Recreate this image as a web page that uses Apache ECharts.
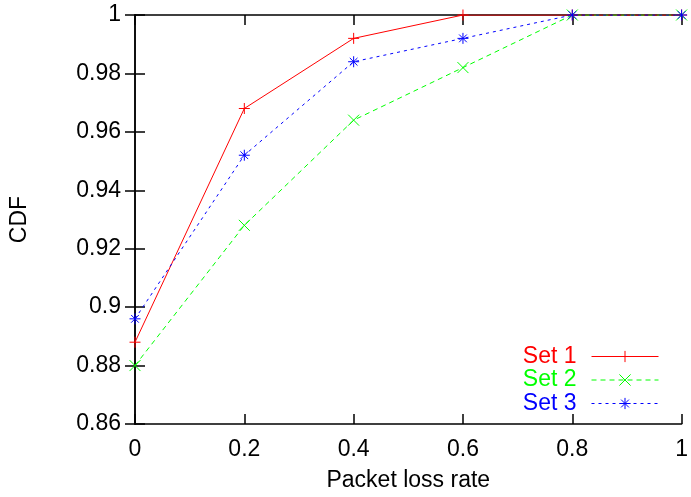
<!DOCTYPE html>
<html><head><meta charset="utf-8">
<script src="https://cdn.jsdelivr.net/npm/echarts@6/dist/echarts.min.js"></script>
<style>html,body{margin:0;padding:0;background:#fff}#c{width:691px;height:497px}</style>
</head><body><div id="c"></div>
<script>
var xValues = [0, 0.2, 0.4, 0.6, 0.8, 1];
var set1 = [0.888, 0.968, 0.992, 1, 1, 1];
var set2 = [0.880, 0.928, 0.964, 0.982, 1, 1];
var set3 = [0.896, 0.952, 0.984, 0.992, 1, 1];
var seriesNames = ['Set 1', 'Set 2', 'Set 3'];
var xTitle = 'Packet loss rate';
var yTitle = 'CDF';

var FONT = 'Liberation Sans';
var FS = 23;
function pairs(v){ return xValues.map(function(x,i){ return [x, v[i]]; }); }
var plusP = 'path://M5,0L5,10M0,5L10,5';
var crossP = 'path://M0,0L10,10M10,0L0,10';
var starP = 'path://M5,0L5,10M0,5L10,5M1.5,1.5L8.5,8.5M8.5,1.5L1.5,8.5';
function mk(name, data, color, sym, type){
  return {
    name: name, type: 'line', data: pairs(data), symbol: sym, symbolSize: 11,
    lineStyle: {color: color, width: 1, type: type},
    itemStyle: {color: 'none', borderColor: color, borderWidth: 1},
    emphasis: {disabled: true}, animation: false, z: 3
  };
}
var fmt = function(v){ return String(+v.toFixed(2)); };
var chart = echarts.init(document.getElementById('c'));
chart.setOption({
  animation: false,
  textStyle: {fontFamily: FONT},
  grid: {left: 135, top: 15, right: 5, bottom: 73},
  xAxis: [{
    type: 'value', min: 0, max: 1, interval: 0.2,
    name: xTitle, nameLocation: 'middle', nameGap: 45,
    nameTextStyle: {fontSize: FS, color: '#000', fontFamily: FONT},
    axisLine: {lineStyle: {color: '#000', width: 1.5}},
    axisTick: {inside: true, length: 10, lineStyle: {color: '#000', width: 1.5}},
    axisLabel: {fontSize: FS, color: '#000', margin: 14, formatter: fmt, fontFamily: FONT},
    splitLine: {show: false}
  },{
    type: 'value', min: 0, max: 1, interval: 0.2, position: 'top',
    axisLine: {lineStyle: {color: '#000', width: 1.5}},
    axisTick: {inside: true, length: 10, lineStyle: {color: '#000', width: 1.5}},
    axisLabel: {show: false}, splitLine: {show: false}
  }],
  yAxis: [{
    type: 'value', min: 0.86, max: 1, interval: 0.02,
    name: yTitle, nameLocation: 'middle', nameGap: 104,
    nameTextStyle: {fontSize: FS, color: '#000', fontFamily: FONT},
    axisLine: {show: true, lineStyle: {color: '#000', width: 1.5}},
    axisTick: {show: true, inside: true, length: 10, lineStyle: {color: '#000', width: 1.5}},
    axisLabel: {fontSize: FS, color: '#000', margin: 14, formatter: fmt, fontFamily: FONT},
    splitLine: {show: false}
  },{
    type: 'value', min: 0.86, max: 1, interval: 0.02, position: 'right',
    axisLine: {show: true, lineStyle: {color: '#000', width: 1.5}},
    axisTick: {show: true, inside: true, length: 10, lineStyle: {color: '#000', width: 1.5}},
    axisLabel: {show: false}, splitLine: {show: false}
  }],
  legend: {
    orient: 'vertical', align: 'right', right: 27, top: 340,
    itemWidth: 67, itemHeight: 14, itemGap: 0.5,
    selectedMode: false,
    itemStyle: {color: 'none', borderWidth: 1},
    lineStyle: {width: 1},
    textStyle: {fontSize: FS, fontFamily: FONT, padding: [0, 10, 0, 0]},
    data: [
      {name: seriesNames[0], textStyle: {color: '#ff0000'}},
      {name: seriesNames[1], textStyle: {color: '#00ff00'}},
      {name: seriesNames[2], textStyle: {color: '#0000ff'}}
    ]
  },
  series: [
    mk(seriesNames[0], set1, '#ff0000', plusP, 'solid'),
    mk(seriesNames[1], set2, '#00ff00', crossP, [5, 4]),
    mk(seriesNames[2], set3, '#0000ff', starP, [3, 4])
  ]
});
</script></body></html>
